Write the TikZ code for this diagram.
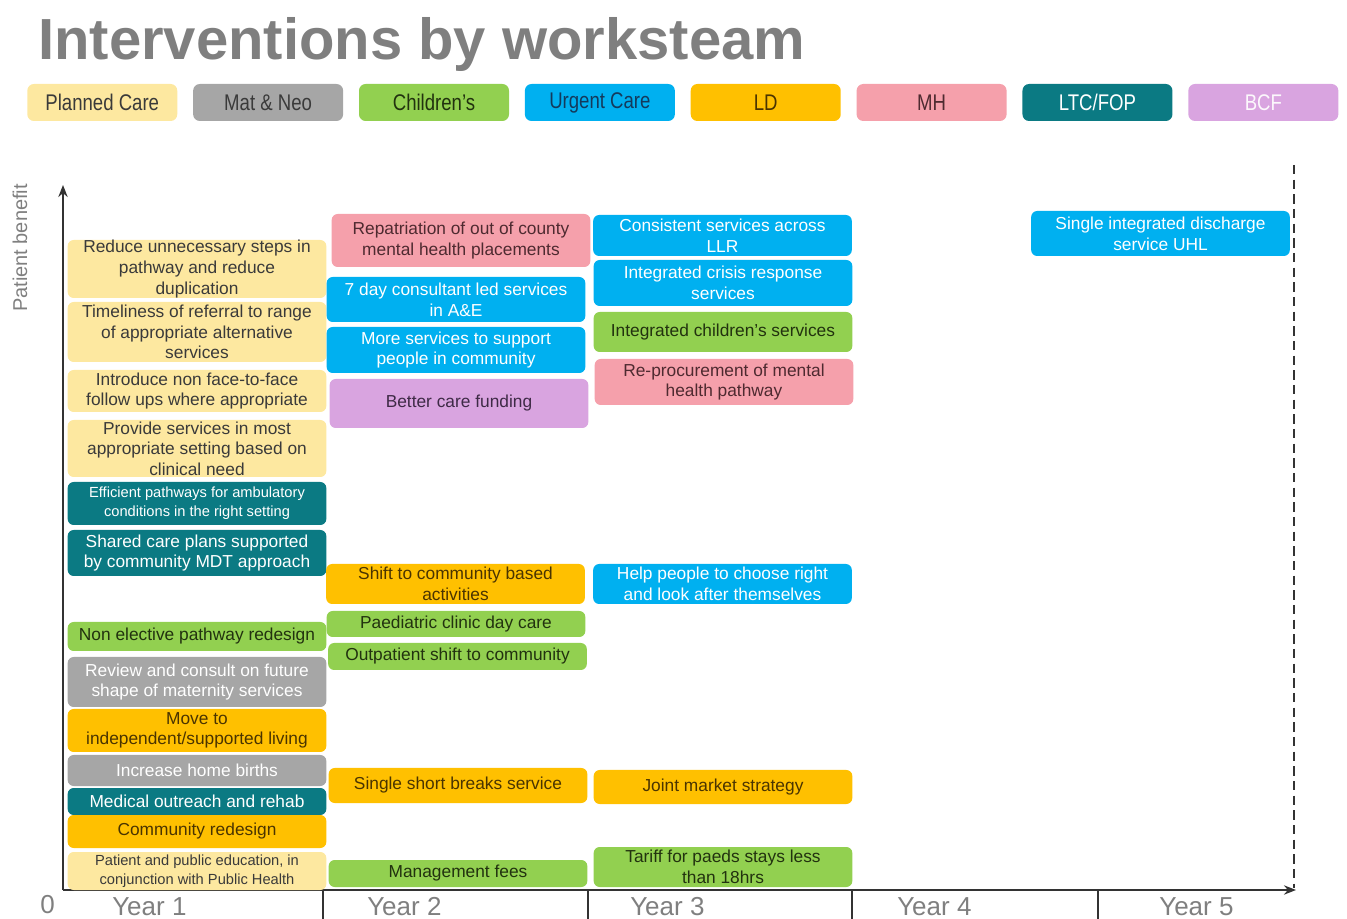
\documentclass[tikz,border=0pt]{standalone}
\usepackage{fontspec}
\setmainfont{Liberation Sans}
\newfontfamily\narrowfont[FakeStretch=0.82]{Liberation Sans}
\usepackage{xcolor}
\usepackage{tikz}
\usetikzlibrary{arrows.meta,positioning}
\definecolor{ink}{HTML}{3A3A3A}
\definecolor{gry}{HTML}{7F7F7F}
\definecolor{axis}{HTML}{333333}
\definecolor{pcY}{HTML}{FDE8A0}
\definecolor{mnG}{HTML}{A6A6A6}
\definecolor{chG}{HTML}{92D050}
\definecolor{chT}{HTML}{22320F}
\definecolor{ucB}{HTML}{00B0F0}
\definecolor{ucT}{HTML}{143A5C}
\definecolor{ldO}{HTML}{FFC000}
\definecolor{ldT}{HTML}{4A3400}
\definecolor{mhP}{HTML}{F5A0AB}
\definecolor{mhT}{HTML}{4E2A30}
\definecolor{ltcT}{HTML}{0B7A83}
\definecolor{bcfP}{HTML}{D9A4E0}
\definecolor{bcfT}{HTML}{3E2A46}
\tikzset{
  box/.style  ={rounded corners=4.5pt, align=center, inner sep=0pt,
                font=\fontsize{13}{15.5}\selectfont, minimum width=194pt},
  small/.style={font=\fontsize{11}{14}\selectfont},
  pc/.style   ={box, fill=pcY,  text=ink},
  mn/.style   ={box, fill=mnG,  text=white},
  ch/.style   ={box, fill=chG,  text=chT},
  uc/.style   ={box, fill=ucB,  text=white},
  ld/.style   ={box, fill=ldO,  text=ldT},
  mh/.style   ={box, fill=mhP,  text=mhT},
  ltc/.style  ={box, fill=ltcT, text=white},
  bcf/.style  ={box, fill=bcfP, text=bcfT},
  key/.style  ={rounded corners=5pt, minimum width=112.5pt, minimum height=27.75pt,
                inner sep=0pt, font=\narrowfont\fontsize{17}{19}\selectfont},
  yr/.style   ={anchor=base west, inner sep=0pt, text=gry, font=\fontsize{19.5}{22}\selectfont},
  ax/.style   ={-{Stealth[length=9pt,width=7pt]}, line width=1.5pt, draw=axis},
  tick/.style ={line width=1.2pt, draw=axis},
}
\begin{document}
\begin{tikzpicture}[x=0.75pt, y=-0.75pt]
  \useasboundingbox (0,0) rectangle (1347,919);
  \node[anchor=base west, inner sep=0pt, text=gry, font=\fontsize{43.5}{48}\bfseries\selectfont] (t) at (38,60) {Interventions by worksteam};
  % legend
  \node[key, fill=pcY, text=ink, anchor=west] (kpc) at (27,102.5) {Planned Care};
  \node[key, fill=mnG, text=ink, right=11.5pt of kpc] (kmn) {Mat \& Neo};
  \node[key, fill=chG, text=chT, right=11.5pt of kmn] (kch) {Children’s};
  \node[key, fill=ucB, text=ucT, right=11.5pt of kch] (kuc) {Urgent Care};
  \node[key, fill=ldO, text=ldT, right=11.5pt of kuc] (kld) {LD};
  \node[key, fill=mhP, text=mhT, right=11.5pt of kld] (kmh) {MH};
  \node[key, fill=ltcT, text=white, right=11.5pt of kmh] (kltc) {LTC/FOP};
  \node[key, fill=bcfP, text=white!92!bcfP, right=11.5pt of kltc] (kbcf) {BCF};
  % axes
  \coordinate (o) at (63,890);
  \coordinate (ytop) at (63,185);
  \coordinate (xend) at (1296,890);
  \coordinate (dtop) at (1294,165);
  \draw[ax] (o) -- (ytop);
  \draw[ax] (o) -- (xend);
  \draw[line width=1.5pt, draw=axis, dash pattern=on 7pt off 4pt] (dtop) -- (1294,888);
  \foreach \xx in {323,588,852,1098} \draw[tick] (\xx,890) -- (\xx,919);
  \node[anchor=base west, inner sep=0pt, text=gry, font=\fontsize{19.5}{22}\selectfont] (zero) at (40,913) {0};
  \node[yr] (y1) at (112,915) {Year 1};
  \node[yr] (y2) at (367,915) {Year 2};
  \node[yr] (y3) at (630,915) {Year 3};
  \node[yr] (y4) at (897,915) {Year 4};
  \node[yr] (y5) at (1159,915) {Year 5};
  \node[rotate=90, text=gry, inner sep=0pt, font=\fontsize{15}{18}\selectfont] (pb) at (20,248) {Patient benefit};
  % year 1
  \node[pc, minimum height=43.5pt] (a1) at (197,269) {Reduce unnecessary steps in\\pathway and reduce\\duplication};
  \node[pc, minimum height=45pt] (a2) at (197,332) {Timeliness of referral to range\\of appropriate alternative\\services};
  \node[pc, minimum height=31.5pt] (a3) at (197,391) {Introduce non face-to-face\\follow ups where appropriate};
  \node[pc, minimum height=42.75pt] (a4) at (197,448.5) {Provide services in most\\appropriate setting based on\\clinical need};
  \node[ltc, small, minimum height=32.25pt] (a5) at (197,503.5) {Efficient pathways for ambulatory\\conditions in the right setting};
  \node[ltc, minimum height=34.5pt] (a6) at (197,553) {Shared care plans supported\\by community MDT approach};
  \node[ch, minimum height=21.75pt] (a7) at (197,636.5) {Non elective pathway redesign};
  \node[mn, minimum height=37.5pt] (a8) at (197,682) {Review and consult on future\\shape of maternity services};
  \node[ld, minimum height=32.25pt] (a9) at (197,730.5) {Move to\\independent/supported living};
  \node[mn, minimum height=23.25pt] (a10) at (197,770.5) {Increase home births};
  \node[ltc, minimum height=20.25pt] (a11) at (197,801.5) {Medical outreach and rehab};
  \node[ld, minimum height=24.75pt] (a12) at (197,831.5) {Community redesign};
  \node[pc, small, minimum height=28.5pt] (a13) at (197,871) {Patient and public education, in\\conjunction with Public Health};
  % year 2
  \node[mh, minimum height=39.75pt] (b1) at (461,240.5) {Repatriation of out of county\\mental health placements};
  \node[uc, minimum height=33.75pt] (b2) at (456,299.5) {7 day consultant led services\\in A\&E};
  \node[uc, minimum height=34.5pt] (b3) at (456,350) {More services to support\\people in community};
  \node[bcf, minimum height=36.75pt] (b4) at (459,403.5) {Better care funding};
  \node[ld, minimum height=30pt] (b5) at (455.5,584) {Shift to community based\\activities};
  \node[ch, minimum height=19.5pt] (b6) at (456,624) {Paediatric clinic day care};
  \node[ch, minimum height=20.25pt] (b7) at (457.5,656.5) {Outpatient shift to community};
  \node[ld, minimum height=26.25pt] (b8) at (458,785.5) {Single short breaks service};
  \node[ch, minimum height=20.25pt] (b9) at (458,873.5) {Management fees};
  % year 3
  \node[uc, minimum height=30.75pt] (c1) at (722.5,235.5) {Consistent services across\\LLR};
  \node[uc, minimum height=34.5pt] (c2) at (723,283) {Integrated crisis response\\services};
  \node[ch, minimum height=30pt] (c3) at (723,332) {Integrated children’s services};
  \node[mh, minimum height=34.5pt] (c4) at (724,382) {Re-procurement of mental\\health pathway};
  \node[uc, minimum height=30pt] (c5) at (722.5,584) {Help people to choose right\\and look after themselves};
  \node[ld, minimum height=25.5pt] (c6) at (723,787) {Joint market strategy};
  \node[ch, minimum height=30pt] (c7) at (723,867) {Tariff for paeds stays less\\than 18hrs};
  % year 5
  \node[uc, minimum height=33.75pt] (e1) at (1160.5,233.5) {Single integrated discharge\\service UHL};
\end{tikzpicture}
\end{document}
